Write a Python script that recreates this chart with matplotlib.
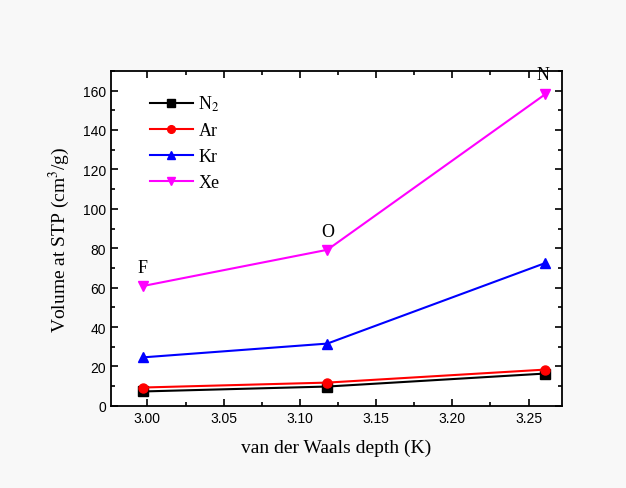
import matplotlib
matplotlib.use("Agg")
import matplotlib.pyplot as plt
from matplotlib.ticker import MultipleLocator

plt.rcParams["mathtext.fontset"] = "stix"

depth = [2.997, 3.118, 3.261]
n2 = [7.3, 9.8, 16.4]
ar = [9.3, 11.8, 18.4]
kr = [24.6, 31.6, 72.5]
xe = [60.8, 79.2, 158.2]
site_labels = ["F", "O", "N"]

series = [
    ("N$_2$", n2, "black", "s"),
    ("Ar", ar, "red", "o"),
    ("Kr", kr, "blue", "^"),
    ("Xe", xe, "magenta", "v"),
]

fig = plt.figure(figsize=(6.26, 4.89), dpi=100, facecolor="#f8f8f8")
ax = fig.add_axes([0.177, 0.168, 0.721, 0.685])
ax.set_facecolor("white")

for name, vals, col, mk in series:
    ax.plot(depth, vals, color=col, marker=mk, markersize=6.5, linewidth=1.5, label=name)

serif = "Liberation Serif"
offsets = [(0, 7), (0, 7), (-2, 8)]
for x, y, lab, off in zip(depth, xe, site_labels, offsets):
    ax.annotate(lab, (x, y), xytext=off, textcoords="offset points",
                ha="center", va="bottom", fontsize=13, family=serif)

ax.set_xlim(2.976, 3.272)
ax.set_ylim(0, 170)
ax.xaxis.set_major_locator(MultipleLocator(0.05))
ax.xaxis.set_minor_locator(MultipleLocator(0.025))
ax.yaxis.set_major_locator(MultipleLocator(20))
ax.yaxis.set_minor_locator(MultipleLocator(10))
ax.xaxis.set_major_formatter(plt.FormatStrFormatter("%.2f"))
ax.tick_params(which="both", direction="in", top=True, right=True, width=1.2)
ax.tick_params(which="major", length=5, labelsize=10)
ax.tick_params(which="minor", length=3)
for lab in ax.get_xticklabels() + ax.get_yticklabels():
    lab.set_family("Liberation Sans")
for sp in ax.spines.values():
    sp.set_linewidth(1.3)

ax.set_xlabel("van der Waals depth (K)", fontsize=14, family=serif, labelpad=10)
ax.set_ylabel("Volume at STP (cm$^3$/g)", fontsize=14, family=serif, labelpad=8)

leg = ax.legend(loc="upper left", frameon=False, prop={"family": serif, "size": 13},
                handlelength=2.4, labelspacing=0.5, bbox_to_anchor=(0.05, 0.98),
                handletextpad=0.3, markerscale=0.85)

fig.savefig("out.png", dpi=100, facecolor=fig.get_facecolor())
